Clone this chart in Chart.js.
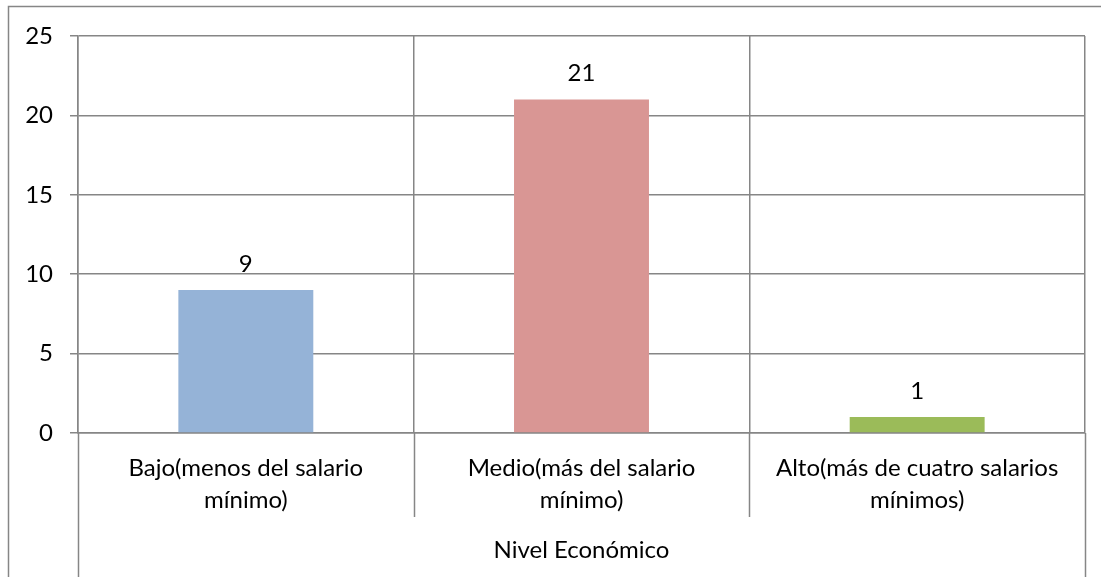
<!DOCTYPE html>
<html>
<head>
<meta charset="utf-8">
<script src="https://cdn.jsdelivr.net/npm/chart.js@4.4.1/dist/chart.umd.min.js"></script>
<style>
  html, body { margin: 0; padding: 0; background: #fff; }
  #wrap { width: 1101px; height: 577px; }
</style>
</head>
<body>
<div id="wrap"><canvas id="barChart" width="1101" height="577"></canvas></div>
<script>
const categories = [
  ["Bajo(menos del salario", "mínimo)"],
  ["Medio(más del salario", "mínimo)"],
  ["Alto(más de cuatro salarios", "mínimos)"]
];
const groupLabel = "Nivel Económico";
const values = [9, 21, 1];
const barColors = ["#95B3D7", "#D99694", "#9BBB59"];
const yTicks = [0, 5, 10, 15, 20, 25];

const lineColor = "#868686";
const fontFamily = "Lato, 'Open Sans', sans-serif";
const fontSize = 24;

// frame, extended category dividers and value labels
const excelBits = {
  id: "excelBits",
  afterDraw(chart) {
    const ctx = chart.ctx;
    const area = chart.chartArea;
    const x = chart.scales.x;
    const h = chart.height;
    ctx.save();
    ctx.strokeStyle = lineColor;
    ctx.lineWidth = 1.5;
    // outer chart frame (right/bottom fall outside the picture)
    ctx.strokeRect(8.5, 6.5, chart.width + 20, h + 20);

    // dividers below the plot
    const n = categories.length;
    const step = x.getPixelForValue(1) - x.getPixelForValue(0);
    for (let i = 0; i <= n; i++) {
      const px = x.getPixelForValue(0) - step / 2 + i * step;
      const bottom = (i === 0 || i === n) ? h : area.bottom + 84;
      ctx.beginPath();
      ctx.moveTo(Math.round(px) + 0.5, area.bottom);
      ctx.lineTo(Math.round(px) + 0.5, bottom);
      ctx.stroke();
    }

    // value labels above bars
    ctx.fillStyle = "#000";
    ctx.font = fontSize + "px " + fontFamily;
    ctx.textAlign = "center";
    ctx.textBaseline = "middle";
    chart.getDatasetMeta(0).data.forEach((bar, i) => {
      ctx.fillText(String(values[i]), bar.x, bar.y - 26);
    });
    ctx.restore();
  }
};

new Chart(document.getElementById("barChart"), {
  type: "bar",
  data: {
    labels: categories,
    datasets: [{
      data: values,
      backgroundColor: barColors,
      categoryPercentage: 0.402,
      barPercentage: 1.0
    }]
  },
  options: {
    responsive: false,
    animation: false,
    layout: { padding: { left: 0, right: 16, top: 36, bottom: 0 } },
    plugins: {
      legend: { display: false },
      tooltip: { enabled: false }
    },
    scales: {
      y: {
        min: 0,
        max: 25,
        afterFit(scale) { scale.width = 78; },
        afterBuildTicks(scale) { scale.ticks = yTicks.map(v => ({ value: v })); },
        grid: { color: lineColor, lineWidth: 1.5, tickLength: 8, drawTicks: true },
        border: { color: lineColor, width: 1.5 },
        ticks: {
          padding: 17,
          color: "#000",
          font: { family: fontFamily, size: fontSize }
        }
      },
      x: {
        afterFit(scale) { scale.height = 144; },
        grid: { color: lineColor, lineWidth: 1.5, offset: true, drawTicks: false },
        border: { color: lineColor, width: 1.5 },
        ticks: {
          padding: 20,
          maxRotation: 0,
          autoSkip: false,
          color: "#000",
          font: { family: fontFamily, size: fontSize, lineHeight: 1.3 }
        },
        title: {
          display: true,
          text: groupLabel,
          color: "#000",
          font: { family: fontFamily, size: fontSize, lineHeight: 1.2 },
          padding: { top: 0, bottom: 12 }
        }
      }
    }
  },
  plugins: [excelBits]
});
</script>
</body>
</html>
